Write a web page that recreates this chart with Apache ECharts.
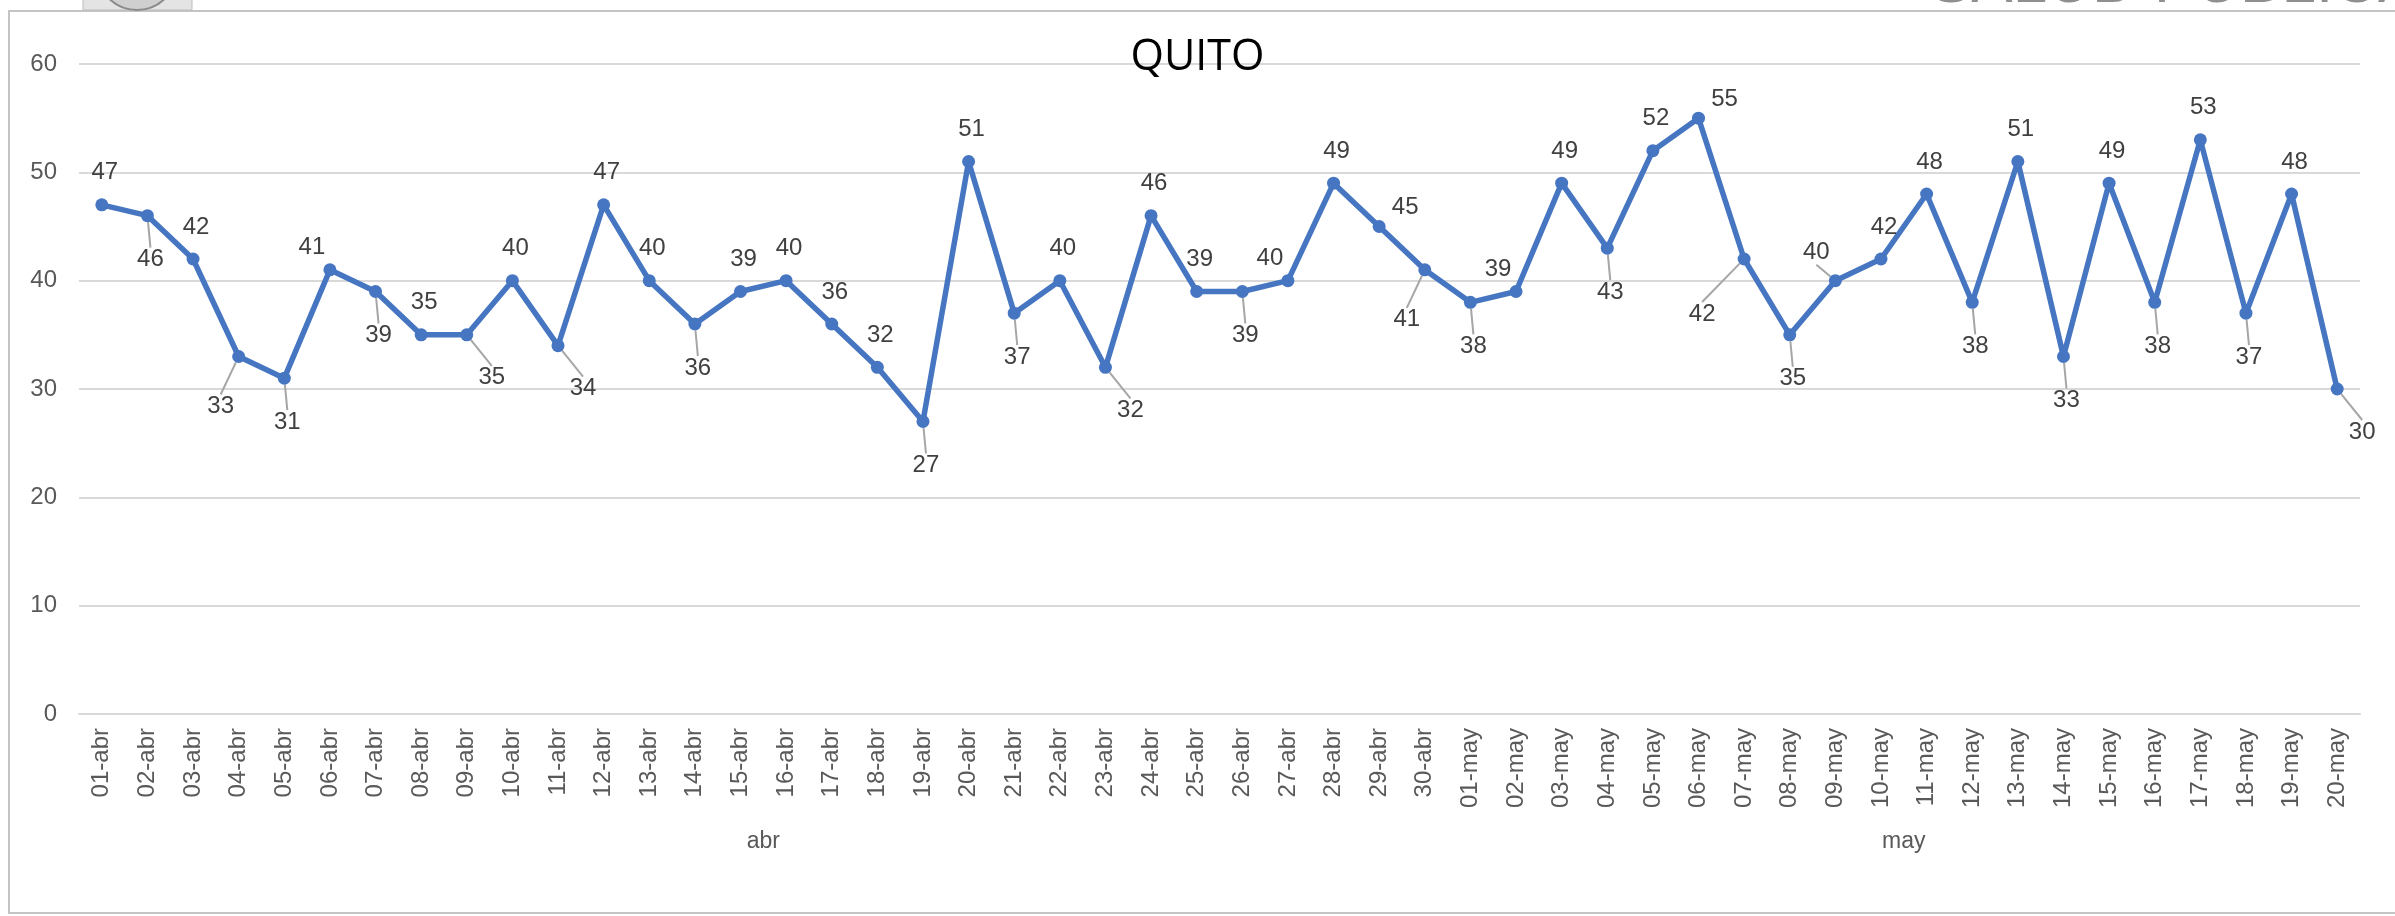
<!DOCTYPE html>
<html>
<head>
<meta charset="utf-8">
<title>QUITO</title>
<script src="https://cdn.jsdelivr.net/npm/echarts@6/dist/echarts.min.js"></script>
<style>
  html, body { margin: 0; padding: 0; background: #fff; }
  #chart { width: 2395px; height: 916px; }
</style>
</head>
<body>
<div id="chart"></div>
<script>
// categories (one per day)
const days = [
  '01-abr', '02-abr', '03-abr', '04-abr', '05-abr', '06-abr', '07-abr', '08-abr', '09-abr', '10-abr',
  '11-abr', '12-abr', '13-abr', '14-abr', '15-abr', '16-abr', '17-abr', '18-abr', '19-abr', '20-abr',
  '21-abr', '22-abr', '23-abr', '24-abr', '25-abr', '26-abr', '27-abr', '28-abr', '29-abr', '30-abr',
  '01-may', '02-may', '03-may', '04-may', '05-may', '06-may', '07-may', '08-may', '09-may', '10-may',
  '11-may', '12-may', '13-may', '14-may', '15-may', '16-may', '17-may', '18-may', '19-may', '20-may'
];
// prettier-ignore
const values = [
  47, 46, 42, 33, 31, 41, 39, 35, 35, 40,
  34, 47, 40, 36, 39, 40, 36, 32, 27, 51,
  37, 40, 32, 46, 39, 39, 40, 49, 45, 41,
  38, 39, 49, 43, 52, 55, 42, 35, 40, 42,
  48, 38, 51, 33, 49, 38, 53, 37, 48, 30
];
const months = ['abr', 'may'];
const monthDays = [30, 20];
const yTicks = [0, 60, 10]; // min, max, step

// where each data label sits around its point (t = top, b = below, ...)
// prettier-ignore
const labelPlace = [
  't', 'b', 't', 'bl', 'b', 'tl', 'b', 't', 'br', 't',
  'br', 't', 't', 'b', 't', 't', 't', 't', 'b', 't',
  'b', 't', 'br', 't', 't', 'b', 'tl', 't', 'tr', 'bl',
  'b', 'tl', 't', 'b', 't', 'tr', 'lb', 'b', 'tlL', 't',
  't', 'b', 't', 'b', 't', 'b', 't', 'b', 't', 'br'
];

const placeOffset = {
  t: [3, -32], b: [3, 44], bl: [-18, 50], br: [25, 43],
  tl: [-18, -22], tlL: [-19, -28], tr: [26, -19], lb: [-42, 55]
};
const withLeader = { b: true, bl: true, br: true, tlL: true, lb: true };

const blue = '#4676c1';
const font = '"Liberation Sans", Arial, sans-serif';

// centre of each month group on the lower axis
const monthCentres = [];
let acc = 0;
monthDays.forEach((n) => {
  monthCentres.push(acc + n / 2);
  acc += n;
});

const chart = echarts.init(document.getElementById('chart'));
const option = {
  backgroundColor: '#ffffff',
  animation: false,
  title: {
    text: 'QUITO',
    left: 'center',
    top: 31,
    textStyle: {
      fontFamily: '"Open Sans", sans-serif',
      fontWeight: 'normal',
      fontSize: 43,
      color: '#000000'
    }
  },
  graphic: [
    {
      type: 'rect',
      z: -1,
      shape: { x: 9, y: 11, width: 2400, height: 902 },
      style: { fill: 'none', stroke: '#c4c4c4', lineWidth: 2 }
    },
    {
      type: 'rect',
      z: -1,
      shape: { x: 83, y: -5, width: 109, height: 15 },
      style: { fill: '#e4e4e4', stroke: '#bdbdbd', lineWidth: 1 }
    },
    {
      type: 'circle',
      z: -1,
      shape: { cx: 137, cy: -30, r: 40 },
      style: { fill: '#cfcfcf', stroke: '#8a8a8a', lineWidth: 2 }
    },
    {
      type: 'text',
      z: 5,
      left: 1930,
      top: -46,
      style: {
        text: 'SALUD PÚBLICA',
        fontSize: 62,
        fontFamily: 'Liberation Sans',
        fill: '#8f8f8f'
      }
    }
  ],
  grid: {
    left: 79,
    right: 35,
    top: 64,
    bottom: 202,
    outerBoundsMode: 'none'
  },
  xAxis: [
    {
      type: 'category',
      data: days,
      boundaryGap: true,
      axisLine: { show: true, lineStyle: { color: '#d9d9d9', width: 2 } },
      axisTick: { show: false },
      axisLabel: {
        interval: 0,
        rotate: 90,
        margin: 14,
        fontSize: 24,
        fontFamily: font,
        color: '#595959'
      }
    },
    {
      type: 'value',
      position: 'bottom',
      min: 0,
      max: acc,
      axisLine: { show: false },
      axisTick: { show: false },
      splitLine: { show: false },
      axisLabel: {
        customValues: monthCentres,
        margin: 116,
        fontSize: 23,
        fontFamily: font,
        color: '#595959',
        formatter: (v) => months[monthCentres.indexOf(v)] || ''
      }
    }
  ],
  yAxis: {
    type: 'value',
    min: yTicks[0],
    max: yTicks[1],
    interval: yTicks[2],
    axisLine: { show: false },
    axisTick: { show: false },
    axisLabel: {
      margin: 22,
      fontSize: 24,
      fontFamily: font,
      color: '#595959'
    },
    splitLine: { lineStyle: { color: '#d9d9d9', width: 2 } }
  },
  series: [
    {
      name: 'QUITO',
      type: 'line',
      xAxisIndex: 0,
      data: values.map((v, i) => ({
        value: v,
        labelLine: { show: !!withLeader[labelPlace[i]] }
      })),
      symbol: 'circle',
      symbolSize: 13,
      itemStyle: { color: blue },
      lineStyle: { color: blue, width: 5.5 },
      label: {
        show: true,
        position: 'inside',
        fontSize: 24,
        fontFamily: font,
        color: '#404040'
      },
      labelLine: {
        show: false,
        lineStyle: { color: '#a6a6a6', width: 2 }
      },
      labelLayout: (params) => {
        const o = placeOffset[labelPlace[params.dataIndex]];
        return { dx: o[0], dy: o[1] };
      }
    }
  ]
};
chart.setOption(option);
</script>
</body>
</html>
